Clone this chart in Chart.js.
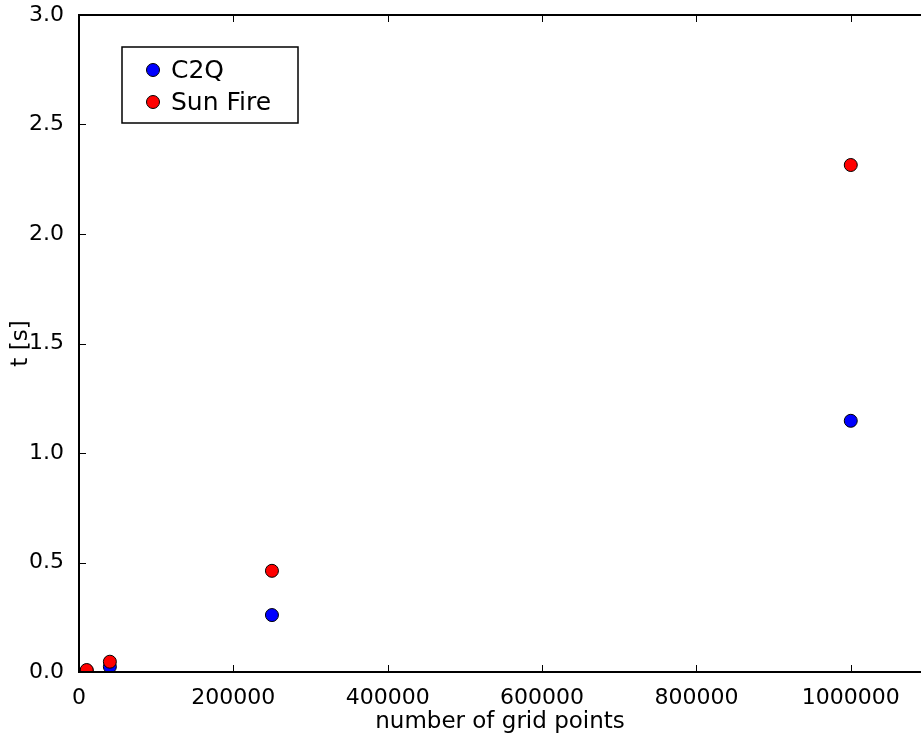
<!DOCTYPE html>
<html>
<head>
<meta charset="utf-8">
<script src="https://cdn.jsdelivr.net/npm/chart.js@4.4.0/dist/chart.umd.min.js"></script>
<style>
  html, body { margin: 0; padding: 0; background: #fff; }
  #myChart { display: block; }
</style>
</head>
<body>
<canvas id="myChart" width="921" height="733"></canvas>
<script>
// grid sizes and timings
const gridPoints = [10000, 40000, 250000, 1000000]
const c2q = [0.005, 0.024, 0.26, 1.147]
const sunFire = [0.009, 0.047, 0.462, 2.315]
const seriesNames = ["C2Q", "Sun Fire"]
const xTicks = [0, 200000, 400000, 600000, 800000, 1000000]
const yTicks = [0, 0.5, 1.0, 1.5, 2.0, 2.5, 3.0]

const FONT = "DejaVu Sans"

function toPoints(ys) {
  return gridPoints.map((x, i) => ({ x: x, y: ys[i] }))
}

function noPadding(s) {
  s.paddingLeft = 0
  s.paddingRight = 0
  s.paddingTop = 0
  s.paddingBottom = 0
}

// spines, inward ticks and the boxed legend, matplotlib style
const frame = {
  id: "frame",
  afterDraw(chart) {
    const ctx = chart.ctx
    const a = chart.chartArea
    const xs = chart.scales.x
    const ys = chart.scales.y
    ctx.save()
    ctx.strokeStyle = "#000"
    ctx.lineWidth = 1
    xTicks.forEach((v) => {
      const px = Math.round(xs.getPixelForValue(v)) + 0.5
      ctx.beginPath()
      ctx.moveTo(px, a.bottom)
      ctx.lineTo(px, a.bottom - 7)
      ctx.moveTo(px, a.top)
      ctx.lineTo(px, a.top + 7)
      ctx.stroke()
    })
    yTicks.forEach((v) => {
      const py = Math.round(ys.getPixelForValue(v)) + 0.5
      ctx.beginPath()
      ctx.moveTo(a.left, py)
      ctx.lineTo(a.left + 7, py)
      ctx.stroke()
    })
    ctx.lineWidth = 2
    ctx.beginPath()
    ctx.moveTo(a.right + 2, a.top)
    ctx.lineTo(a.left, a.top)
    ctx.lineTo(a.left, a.bottom)
    ctx.lineTo(a.right + 2, a.bottom)
    ctx.stroke()

    // legend
    const lx = a.left + 43, ly = a.top + 32, lw = 176, lh = 76
    ctx.fillStyle = "#fff"
    ctx.fillRect(lx, ly, lw, lh)
    ctx.lineWidth = 1.5
    ctx.strokeRect(lx, ly, lw, lh)
    ctx.font = "25px '" + FONT + "'"
    ctx.textBaseline = "middle"
    chart.data.datasets.forEach((ds, i) => {
      const cy = ly + 23 + i * 32
      ctx.beginPath()
      ctx.arc(lx + 31, cy, 6.5, 0, Math.PI * 2)
      ctx.fillStyle = ds.backgroundColor
      ctx.fill()
      ctx.lineWidth = 1
      ctx.strokeStyle = "#000"
      ctx.stroke()
      ctx.fillStyle = "#000"
      ctx.fillText(ds.label, lx + 49, cy + 1)
    })
    ctx.restore()
  }
}

const config = {
  type: "scatter",
  data: {
    datasets: [
      {
        label: seriesNames[0],
        data: toPoints(c2q),
        backgroundColor: "#0000ff",
        borderColor: "#000",
        borderWidth: 1,
        pointRadius: 6.5,
        order: 2,
        clip: 0
      },
      {
        label: seriesNames[1],
        data: toPoints(sunFire),
        backgroundColor: "#ff0000",
        borderColor: "#000",
        borderWidth: 1,
        pointRadius: 6.5,
        order: 1,
        clip: 0
      }
    ]
  },
  options: {
    responsive: false,
    devicePixelRatio: 1,
    animation: false,
    layout: { autoPadding: false, padding: { top: 15, right: 0, left: 0, bottom: 0 } },
    plugins: {
      legend: { display: false },
      tooltip: { enabled: false }
    },
    scales: {
      x: {
        type: "linear",
        min: 0,
        max: 1091000,
        grid: { display: false },
        border: { display: false },
        afterBuildTicks: (s) => { s.ticks = xTicks.map((v) => ({ value: v })) },
        afterFit: (s) => { s.height = 61; noPadding(s) },
        ticks: {
          padding: 5,
          maxRotation: 0,
          color: "#000",
          font: { family: FONT, size: 22 },
          callback: (v) => String(v)
        },
        title: {
          display: true,
          text: "number of grid points",
          color: "#000",
          padding: { top: 0, bottom: -3 },
          font: { family: FONT, size: 23 }
        }
      },
      y: {
        type: "linear",
        min: 0,
        max: 3,
        grid: { display: false },
        border: { display: false },
        afterBuildTicks: (s) => { s.ticks = yTicks.map((v) => ({ value: v })) },
        afterFit: (s) => { s.width = 79; noPadding(s) },
        ticks: {
          padding: 7,
          color: "#000",
          font: { family: FONT, size: 22 },
          callback: (v) => v.toFixed(1)
        },
        title: {
          display: true,
          text: "t [s]",
          color: "#000",
          padding: { top: 7, bottom: 0 },
          font: { family: FONT, size: 23 }
        }
      }
    }
  },
  plugins: [frame]
}

new Chart(document.getElementById("myChart"), config)
</script>
</body>
</html>
